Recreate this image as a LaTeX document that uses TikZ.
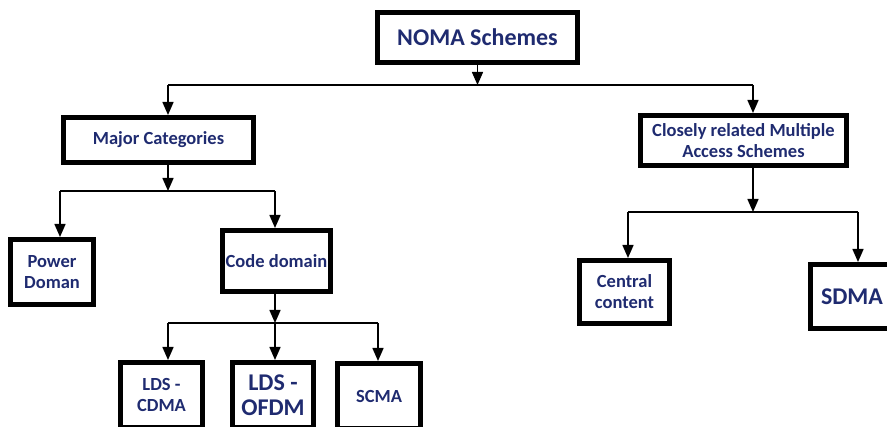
\documentclass[tikz,border=0pt]{standalone}
\usepackage{fontspec}
\setmainfont{Carlito}
\usepackage{xcolor}
\usepackage{tikz}
\usetikzlibrary{arrows.meta}
\definecolor{navy}{RGB}{31,43,112}

\begin{document}
\begin{tikzpicture}[x=1pt, y=-1pt, line width=1.5pt,
  box/.style={draw, line width=5pt, text=navy, font=\bfseries\fontsize{18.5}{21}\selectfont,
    align=center, inner sep=0pt},
  big/.style={font=\bfseries\fontsize{24}{25}\selectfont},
  >={Triangle[width=11pt,length=13pt]}]
\useasboundingbox (0,0) rectangle (887,427);
\clip (0,0) rectangle (887,427);

\node[box, big, minimum width=200, minimum height=50] (noma) at (477.5,37.5) {NOMA Schemes};
\node[box, minimum width=190, minimum height=45] (major) at (158.5,140) {Major Categories};
\node[box, minimum width=206, minimum height=50] (closely) at (743.5,140.5) {Closely related Multiple\\Access Schemes};
\node[box, minimum width=83, minimum height=65] (power) at (52,272) {Power\\Doman};
\node[box, minimum width=108, minimum height=61] (code) at (276.5,261) {Code domain};
\node[box, minimum width=82, minimum height=65] (cdma) at (161.5,395) {LDS -\\CDMA};
\node[box, big, minimum width=81, minimum height=65] (ofdm) at (273,395) {LDS -\\OFDM};
\node[box, minimum width=83, minimum height=65] (scma) at (379,396) {SCMA};
\node[box, minimum width=90, minimum height=63] (central) at (624.5,292) {Central\\content};
\node[box, big, minimum width=83, minimum height=64] (sdma) at (852,296.5) {SDMA};

% junctions of the branch lines
\coordinate (a1) at (168,85);
\coordinate (a2) at (753,85);
\coordinate (b1) at (60,191);
\coordinate (b2) at (275,191);
\coordinate (c1) at (168,323);
\coordinate (c2) at (378,323);
\coordinate (d1) at (628,212);
\coordinate (d2) at (858,212);

\draw[->] (noma) -- (noma |- a1);
\draw (a1) -- (a2);
\draw[->] (a1) -- (a1 |- major.north);
\draw[->] (a2) -- (a2 |- closely.north);

\draw[->] (a1 |- major.south) -- (a1 |- b1);
\draw (b1) -- (b2);
\draw[->] (b1) -- (b1 |- power.north);
\draw[->] (b2) -- (b2 |- code.north);

\draw[->] (b2 |- code.south) -- (b2 |- c1);
\draw (c1) -- (c2);
\draw[->] (c1) -- (c1 |- cdma.north);
\draw[->] (b2 |- c1) -- (b2 |- ofdm.north);
\draw[->] (c2) -- (c2 |- scma.north);

\draw[->] (a2 |- closely.south) -- (a2 |- d1);
\draw (d1) -- (d2);
\draw[->] (d1) -- (d1 |- central.north);
\draw[->] (d2) -- (d2 |- sdma.north);
\end{tikzpicture}
\end{document}
